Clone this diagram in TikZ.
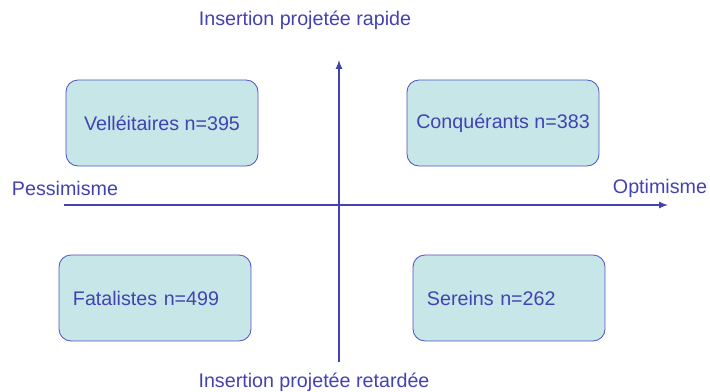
\documentclass[tikz,border=0pt]{standalone}
\usepackage{fontspec}
\setmainfont{Liberation Sans}
\definecolor{inkblue}{RGB}{66,66,178}
\definecolor{boxline}{RGB}{84,84,196}
\definecolor{boxfill}{RGB}{198,230,232}

\begin{document}
\begin{tikzpicture}[x=0.025cm, y=-0.025cm,
        font=\fontsize{14}{16}\selectfont, text=inkblue,
        quadrant/.style={draw=boxline, fill=boxfill, line width=0.6pt,
            rounded corners=0.3cm, minimum width=4.8cm, minimum height=2.15cm},
        leftbox/.style={quadrant, align=left, text width=4.1cm, inner xsep=0.35cm},
        axis/.style={-latex, line width=1.2pt, draw=inkblue}]
        \useasboundingbox (0,0) rectangle (710,392);

        % Axes
        \coordinate (south) at (339,362);
        \coordinate (north) at (339,60);
        \coordinate (west) at (64,205);
        \coordinate (east) at (668,205);
        \draw[axis] (south) -- (north);
        \draw[axis] (west) -- (east);

        % Axis labels
        \node (rapide) at (305,20) {Insertion projetée rapide};
        \node (retardee) at (314,382) {Insertion projetée retardée};
        \node (pessimisme) at (65,188) {Pessimisme};
        \node (optimisme) at (660,188) {Optimisme};

        % Quadrants
        \node[quadrant] (velleitaires) at (162,123) {Velléitaires n=395};
        \node[quadrant] (conquerants) at (503,123) {Conquérants n=383};
        \node[leftbox] (fatalistes) at (155,298) {Fatalistes n=499};
        \node[leftbox] (sereins) at (509,298) {Sereins n=262};
\end{tikzpicture}
\end{document}
